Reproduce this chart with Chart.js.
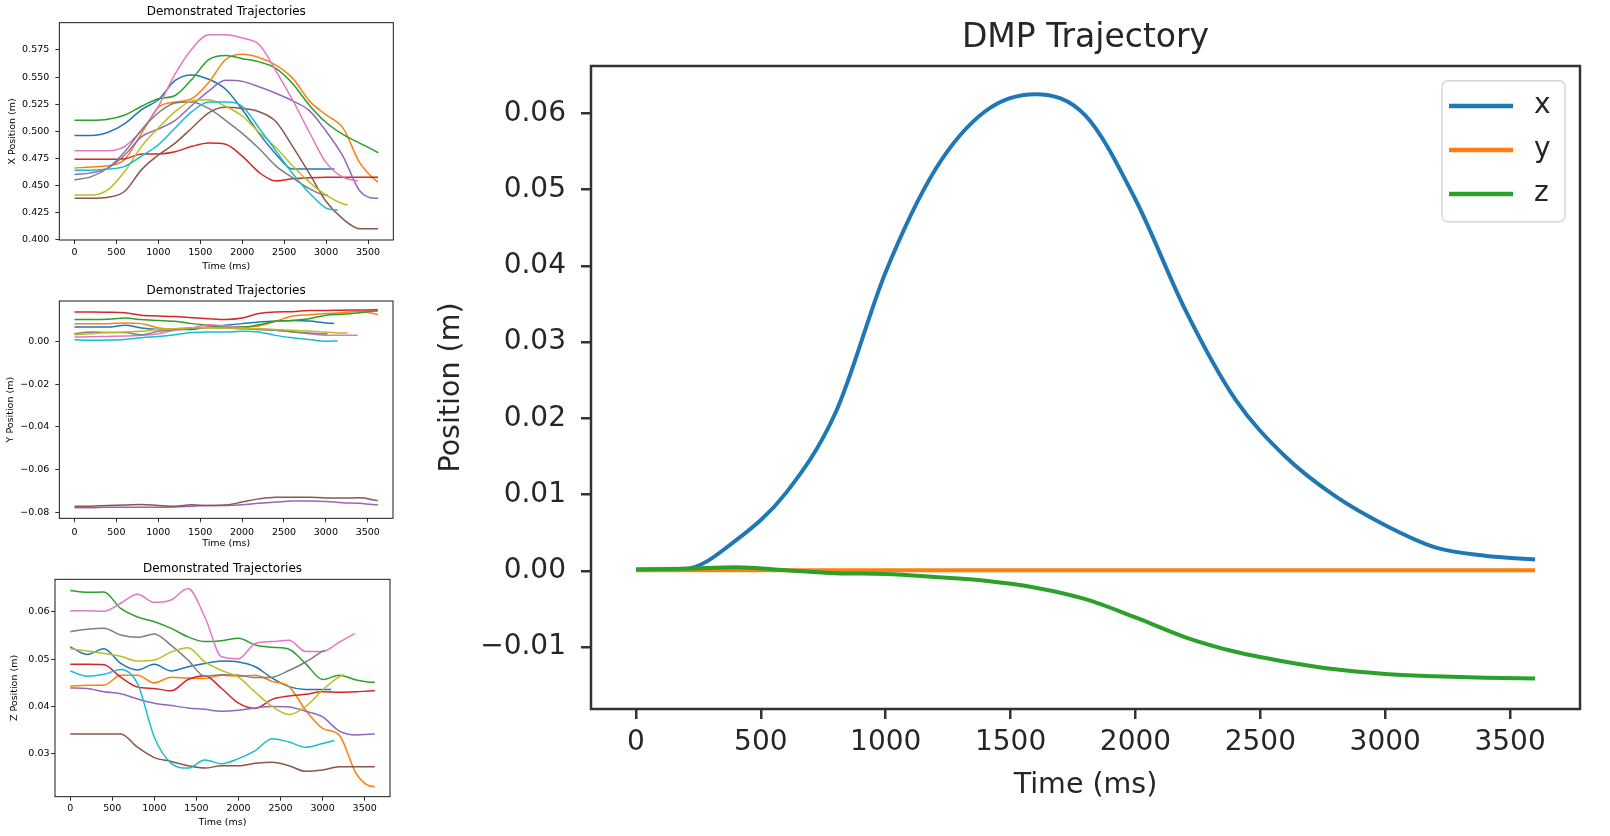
<!DOCTYPE html>
<html lang="en">
<head>
  <meta charset="UTF-8">
  <title>Demonstrated Trajectories and DMP Trajectory</title>
  <script src="https://cdn.jsdelivr.net/npm/chart.js"></script>
  <style>
    body {
      margin: 0;
      width: 1610px;
      height: 836px;
      background: #fff;
      position: relative;
      overflow: hidden;
    }
    canvas { position: absolute; }
    #xChart { left: 0; top: 0; }
    #yChart { left: 0; top: 275px; }
    #zChart { left: 0; top: 550px; }
    #dmpChart { left: 410px; top: 0; }
  </style>
</head>
<body>
  <canvas id="xChart" width="400" height="275"></canvas>
  <canvas id="yChart" width="400" height="275"></canvas>
  <canvas id="zChart" width="400" height="286"></canvas>
  <canvas id="dmpChart" width="1200" height="836"></canvas>

  <script>
    // time samples (ms); the last value of every demo series sits at its end time
    const timeGrid = [0, 200, 400, 600, 800, 1000, 1200, 1400, 1600, 1800, 2000, 2200, 2400, 2600, 2800, 3000, 3200, 3400, 3600];
    const demoEnds = [3100, 3620, 3620, 3620, 3620, 3620, 3380, 3020, 3260, 3140];
    const demoColors = ['#1f77b4', '#ff7f0e', '#2ca02c', '#d62728', '#9467bd', '#8c564b', '#e377c2', '#7f7f7f', '#bcbd22', '#17becf'];

    const demoX = [
      [0.496, 0.496, 0.499, 0.507, 0.520, 0.529, 0.547, 0.552, 0.548, 0.539, 0.520, 0.498, 0.479, 0.465, 0.465, 0.465, 0.465],
      [0.466, 0.467, 0.468, 0.474, 0.498, 0.522, 0.527, 0.530, 0.545, 0.566, 0.571, 0.568, 0.561, 0.549, 0.528, 0.515, 0.503, 0.471, 0.454, 0.453],
      [0.510, 0.510, 0.511, 0.515, 0.523, 0.530, 0.533, 0.548, 0.566, 0.570, 0.567, 0.564, 0.558, 0.544, 0.524, 0.508, 0.497, 0.489, 0.481, 0.480],
      [0.474, 0.474, 0.474, 0.4745, 0.479, 0.479, 0.481, 0.486, 0.489, 0.488, 0.477, 0.462, 0.454, 0.456, 0.457, 0.4575, 0.4575, 0.4575, 0.4575, 0.4575],
      [0.460, 0.4615, 0.466, 0.478, 0.495, 0.502, 0.510, 0.524, 0.537, 0.547, 0.546, 0.541, 0.535, 0.528, 0.519, 0.500, 0.477, 0.445, 0.438, 0.438],
      [0.438, 0.438, 0.439, 0.4445, 0.4645, 0.478, 0.489, 0.503, 0.517, 0.522, 0.521, 0.518, 0.509, 0.486, 0.461, 0.435, 0.419, 0.410, 0.410, 0.410],
      [0.482, 0.482, 0.482, 0.486, 0.501, 0.523, 0.553, 0.576, 0.589, 0.589, 0.586, 0.580, 0.556, 0.529, 0.499, 0.471, 0.4575, 0.454],
      [0.455, 0.458, 0.466, 0.481, 0.501, 0.517, 0.526, 0.527, 0.521, 0.510, 0.498, 0.484, 0.468, 0.457, 0.447, 0.441, 0.441],
      [0.441, 0.441, 0.446, 0.463, 0.486, 0.503, 0.518, 0.528, 0.529, 0.523, 0.514, 0.499, 0.485, 0.468, 0.453, 0.441, 0.433, 0.432],
      [0.464, 0.464, 0.465, 0.4675, 0.477, 0.4875, 0.503, 0.518, 0.527, 0.527, 0.523, 0.503, 0.482, 0.461, 0.443, 0.429, 0.427]
    ];

    const demoY = [
      [0.0067, 0.0067, 0.0067, 0.0075, 0.0063, 0.0056, 0.0055, 0.0056, 0.0067, 0.0075, 0.0083, 0.0091, 0.0095, 0.0098, 0.0095, 0.0086, 0.0084],
      [0.0083, 0.0083, 0.0083, 0.0086, 0.0083, 0.0063, 0.0059, 0.0062, 0.0067, 0.0067, 0.0067, 0.0072, 0.0094, 0.0119, 0.0125, 0.0130, 0.0134, 0.0141, 0.0127, 0.0125],
      [0.0102, 0.0102, 0.0104, 0.0109, 0.0102, 0.0098, 0.0094, 0.0083, 0.0075, 0.0067, 0.0067, 0.0078, 0.0094, 0.0098, 0.0106, 0.0122, 0.0127, 0.0134, 0.0142, 0.0142],
      [0.0137, 0.0137, 0.0136, 0.0134, 0.0122, 0.0119, 0.0116, 0.0111, 0.0106, 0.0102, 0.0109, 0.0130, 0.0138, 0.0139, 0.0145, 0.0145, 0.0146, 0.0147, 0.0148, 0.0148],
      [-0.0780, -0.0779, -0.0777, -0.0777, -0.0777, -0.0777, -0.0776, -0.0772, -0.0769, -0.0769, -0.0766, -0.0758, -0.0753, -0.0748, -0.0748, -0.0750, -0.0756, -0.0759, -0.0766, -0.0766],
      [-0.0773, -0.0772, -0.0769, -0.0767, -0.0764, -0.0769, -0.0773, -0.0766, -0.0769, -0.0767, -0.0753, -0.0738, -0.0730, -0.0730, -0.0730, -0.0734, -0.0734, -0.0733, -0.0745, -0.0746],
      [0.0020, 0.0021, 0.0023, 0.0025, 0.0028, 0.0036, 0.0052, 0.0063, 0.0078, 0.0072, 0.0064, 0.0055, 0.0052, 0.0044, 0.0036, 0.0028, 0.0028, 0.0028],
      [0.0036, 0.0044, 0.0042, 0.0041, 0.0031, 0.0047, 0.0056, 0.0063, 0.0064, 0.0063, 0.0059, 0.0056, 0.0052, 0.0044, 0.0039, 0.0036, 0.0036],
      [0.0031, 0.0036, 0.0041, 0.0044, 0.0047, 0.0055, 0.0059, 0.0064, 0.0064, 0.0063, 0.0059, 0.0059, 0.0056, 0.0052, 0.0048, 0.0044, 0.0039, 0.0039],
      [0.0008, 0.0005, 0.0006, 0.0009, 0.0017, 0.0023, 0.0031, 0.0041, 0.0044, 0.0044, 0.0047, 0.0044, 0.0028, 0.0017, 0.0009, 0.0000, 0.0002]
    ];

    const demoZ = [
      [0.0526, 0.0510, 0.0522, 0.0491, 0.0477, 0.0489, 0.0475, 0.0484, 0.0491, 0.0496, 0.0494, 0.0484, 0.0460, 0.0442, 0.0436, 0.0436, 0.0436],
      [0.0443, 0.0445, 0.0445, 0.0466, 0.0466, 0.0450, 0.0462, 0.0460, 0.0459, 0.0466, 0.0464, 0.0466, 0.0453, 0.0442, 0.0392, 0.0354, 0.0339, 0.0258, 0.0231, 0.0231],
      [0.0645, 0.0641, 0.0642, 0.0607, 0.0589, 0.0579, 0.0565, 0.0547, 0.0537, 0.0539, 0.0544, 0.0530, 0.0525, 0.0521, 0.0490, 0.0457, 0.0466, 0.0456, 0.0451, 0.0451],
      [0.0489, 0.0489, 0.0488, 0.0462, 0.0441, 0.0438, 0.0433, 0.0457, 0.0465, 0.0438, 0.0407, 0.0396, 0.0415, 0.0422, 0.0426, 0.0431, 0.0430, 0.0431, 0.0433, 0.0433],
      [0.0439, 0.0438, 0.0431, 0.0427, 0.0416, 0.0407, 0.0402, 0.0397, 0.0394, 0.0390, 0.0392, 0.0397, 0.0400, 0.0399, 0.0390, 0.0378, 0.0348, 0.0340, 0.0342, 0.0342],
      [0.0342, 0.0342, 0.0342, 0.0342, 0.0314, 0.0292, 0.0284, 0.0275, 0.0270, 0.0275, 0.0275, 0.0280, 0.0282, 0.0275, 0.0263, 0.0266, 0.0273, 0.0273, 0.0273, 0.0273],
      [0.0602, 0.0602, 0.0601, 0.0618, 0.0637, 0.0620, 0.0625, 0.0649, 0.0589, 0.0505, 0.0501, 0.0533, 0.0537, 0.0540, 0.0516, 0.0516, 0.0536, 0.0554],
      [0.0558, 0.0563, 0.0565, 0.0551, 0.0546, 0.0553, 0.0529, 0.0498, 0.0464, 0.0467, 0.0466, 0.0461, 0.0462, 0.0476, 0.0494, 0.0517, 0.0519],
      [0.0522, 0.0517, 0.0512, 0.0506, 0.0496, 0.0498, 0.0515, 0.0524, 0.0494, 0.0476, 0.0462, 0.0430, 0.0400, 0.0383, 0.0400, 0.0435, 0.0463, 0.0467],
      [0.0475, 0.0464, 0.0468, 0.0478, 0.0448, 0.0335, 0.0280, 0.0270, 0.0287, 0.0279, 0.0290, 0.0307, 0.0332, 0.0325, 0.0314, 0.0322, 0.0328]
    ];

    const timeTicks = [0, 500, 1000, 1500, 2000, 2500, 3000, 3500];
    const xPosTicks = [0.400, 0.425, 0.450, 0.475, 0.500, 0.525, 0.550, 0.575];
    const yPosTicks = [-0.08, -0.06, -0.04, -0.02, 0.00];
    const zPosTicks = [0.03, 0.04, 0.05, 0.06];

    // DMP reproduction
    const dmpLabels = ['x', 'y', 'z'];
    const dmpColors = ['#1f77b4', '#ff7f0e', '#2ca02c'];
    const dmpX = [0.0002, 0.0003, 0.0040, 0.0102, 0.0208, 0.0392, 0.0527, 0.0603, 0.0625, 0.0597, 0.0487, 0.0342, 0.0225, 0.0150, 0.0098, 0.0060, 0.0031, 0.0020, 0.0015];
    const dmpY = [0.0001, 0.0001, 0.0001, 0.0001, 0.0001, 0.0001, 0.0001, 0.0001, 0.0001, 0.0001, 0.0001, 0.0001, 0.0001, 0.0001, 0.0001, 0.0001, 0.0001, 0.0001, 0.0001];
    const dmpZ = [0.0002, 0.0003, 0.0005, 0.0001, -0.0003, -0.0004, -0.0008, -0.0013, -0.0022, -0.0037, -0.0061, -0.0087, -0.0106, -0.0119, -0.0129, -0.0135, -0.0138, -0.0140, -0.0141];
    const dmpTicks = [-0.01, 0.00, 0.01, 0.02, 0.03, 0.04, 0.05, 0.06];

    Chart.defaults.font.family = '"DejaVu Sans", sans-serif';
    Chart.defaults.animation = false;

    // box around the axes, drawn over the lines like matplotlib spines
    const frame = {
      id: 'frame',
      afterDatasetsDraw(chart, args, opts) {
        const { ctx, chartArea: a } = chart;
        ctx.save();
        ctx.strokeStyle = opts.color;
        ctx.lineWidth = opts.width;
        ctx.strokeRect(a.left, a.top, a.right - a.left, a.bottom - a.top);
        ctx.restore();
      }
    };

    // framed legend in the upper right of the plot
    const lineLegend = {
      id: 'lineLegend',
      afterDraw(chart, args, o) {
        const { ctx, chartArea: a } = chart;
        const x0 = a.right - o.right - o.width;
        const y0 = a.top + o.top;
        const w = o.width, h = o.height, r = o.radius;
        ctx.save();
        ctx.beginPath();
        ctx.moveTo(x0 + r, y0);
        ctx.lineTo(x0 + w - r, y0);
        ctx.arcTo(x0 + w, y0, x0 + w, y0 + r, r);
        ctx.lineTo(x0 + w, y0 + h - r);
        ctx.arcTo(x0 + w, y0 + h, x0 + w - r, y0 + h, r);
        ctx.lineTo(x0 + r, y0 + h);
        ctx.arcTo(x0, y0 + h, x0, y0 + h - r, r);
        ctx.lineTo(x0, y0 + r);
        ctx.arcTo(x0, y0, x0 + r, y0, r);
        ctx.closePath();
        ctx.fillStyle = 'rgba(255,255,255,0.8)';
        ctx.fill();
        ctx.strokeStyle = o.borderColor;
        ctx.lineWidth = 1.5;
        ctx.stroke();
        ctx.font = o.font;
        ctx.textBaseline = 'middle';
        chart.data.datasets.forEach((ds, i) => {
          const y = y0 + o.firstRow + i * o.rowGap;
          ctx.beginPath();
          ctx.moveTo(x0 + o.lineStart, y);
          ctx.lineTo(x0 + o.lineEnd, y);
          ctx.strokeStyle = ds.borderColor;
          ctx.lineWidth = o.lineWidth;
          ctx.stroke();
          ctx.fillStyle = o.textColor;
          ctx.fillText(ds.label, x0 + o.textX, y);
        });
        ctx.restore();
      }
    };

    function minus(s) {
      return s.replace('-', '\u2212');
    }

    function demoPoints(vals, end) {
      return vals.map((v, i) => ({ x: i < vals.length - 1 ? timeGrid[i] : end, y: v }));
    }

    function demoChart(id, series, yTicks, yMin, yMax, decimals, yLabel, lay) {
      const datasets = series.map((vals, i) => ({
        label: 'demo ' + (i + 1),
        data: demoPoints(vals, demoEnds[i]),
        borderColor: demoColors[i],
        borderWidth: 1.5,
        pointRadius: 0,
        cubicInterpolationMode: 'monotone',
        order: -i
      }));
      const tickFont = { size: 9.5 };
      const grid = { display: true, drawOnChartArea: false, drawTicks: true, tickLength: 4, color: '#000', lineWidth: 0.8 };
      return new Chart(document.getElementById(id), {
        type: 'line',
        data: { datasets },
        plugins: [frame],
        options: {
          responsive: false,
          layout: { padding: { left: 2, right: lay.right, top: 0, bottom: 0 } },
          plugins: {
            legend: { display: false },
            tooltip: { enabled: false },
            frame: { color: '#000', width: 0.9 },
            title: {
              display: true,
              text: 'Demonstrated Trajectories',
              fullSize: false,
              color: '#000',
              font: { size: 12, weight: 'normal' },
              padding: { top: lay.titleTop, bottom: lay.titleBottom }
            }
          },
          scales: {
            x: {
              type: 'linear',
              min: -181,
              max: 3801,
              afterBuildTicks: s => { s.ticks = timeTicks.map(v => ({ value: v })); },
              afterFit: s => { s.height = lay.xHeight; },
              grid,
              border: { display: false },
              ticks: { color: '#000', font: tickFont, padding: lay.xTickPad, maxRotation: 0, autoSkip: false, callback: v => String(v) },
              title: { display: true, text: 'Time (ms)', color: '#000', font: tickFont, padding: { top: 0, bottom: lay.xTitlePad } }
            },
            y: {
              type: 'linear',
              min: yMin,
              max: yMax,
              afterBuildTicks: s => { s.ticks = yTicks.map(v => ({ value: v })); },
              afterFit: s => { s.width = lay.yWidth; },
              grid,
              border: { display: false },
              ticks: { color: '#000', font: tickFont, padding: lay.yTickPad, autoSkip: false, callback: v => minus(v.toFixed(decimals)) },
              title: { display: true, text: yLabel, color: '#000', font: tickFont, padding: { top: lay.yTitlePad, bottom: 0 } }
            }
          }
        }
      });
    }

    demoChart('xChart', demoX, xPosTicks, 0.3995, 0.6002, 3, 'X Position (m)',
      { right: 6.7, titleTop: 4.8, titleBottom: 3.5, xHeight: 35, xTickPad: 2.6, xTitlePad: 2.6, yWidth: 57.3, yTickPad: 6, yTitlePad: 5 });
    demoChart('yChart', demoY, yPosTicks, -0.0829, 0.0189, 2, 'Y Position (m)',
      { right: 7, titleTop: 8.5, titleBottom: 3.1, xHeight: 31.7, xTickPad: 4.3, xTitlePad: 1, yWidth: 57.3, yTickPad: 6, yTitlePad: 3.3 });
    demoChart('zChart', demoZ, zPosTicks, 0.02095, 0.06686, 2, 'Z Position (m)',
      { right: 10, titleTop: 11.8, titleBottom: 3.1, xHeight: 39.3, xTickPad: 2.6, xTitlePad: 7.6, yWidth: 53, yTickPad: 1.5, yTitlePad: 7.3 });

    // big DMP chart
    const dmpSeries = [dmpX, dmpY, dmpZ];
    const bigFont = { size: 28.5 };
    const bigGrid = { display: true, drawOnChartArea: false, drawTicks: true, tickLength: 10, color: '#333', lineWidth: 2.5 };
    new Chart(document.getElementById('dmpChart'), {
      type: 'line',
      data: {
        datasets: dmpSeries.map((vals, i) => ({
          label: dmpLabels[i],
          data: vals.map((v, j) => ({ x: timeGrid[j], y: v })),
          borderColor: dmpColors[i],
          borderWidth: 4,
          pointRadius: 0,
          cubicInterpolationMode: 'monotone',
          order: -i
        }))
      },
      plugins: [frame, lineLegend],
      options: {
        responsive: false,
        layout: { padding: { left: 5, right: 30, top: 0, bottom: 0 } },
        plugins: {
          legend: { display: false },
          tooltip: { enabled: false },
          frame: { color: '#333', width: 2.5 },
          lineLegend: {
            right: 15, top: 14.7, width: 123, height: 141, radius: 6,
            firstRow: 25.3, rowGap: 44, lineStart: 7, lineEnd: 71, textX: 92,
            lineWidth: 4.5, borderColor: '#d6d6d6', textColor: '#262626',
            font: '28px "DejaVu Sans", sans-serif'
          },
          title: {
            display: true,
            text: 'DMP Trajectory',
            fullSize: false,
            color: '#262626',
            font: { size: 33, weight: 'normal' },
            padding: { top: 18.2, bottom: 8.2 }
          }
        },
        scales: {
          x: {
            type: 'linear',
            min: -180,
            max: 3780,
            afterBuildTicks: s => { s.ticks = timeTicks.map(v => ({ value: v })); },
            afterFit: s => { s.height = 127; },
            grid: bigGrid,
            border: { display: false },
            ticks: { color: '#262626', font: { size: 28 }, padding: 7.2, maxRotation: 0, autoSkip: false, callback: v => String(v) },
            title: { display: true, text: 'Time (ms)', color: '#262626', font: bigFont, padding: { top: 0, bottom: 32.9 } }
          },
          y: {
            type: 'linear',
            min: -0.0181,
            max: 0.0662,
            afterBuildTicks: s => { s.ticks = dmpTicks.map(v => ({ value: v })); },
            afterFit: s => { s.width = 176; },
            grid: bigGrid,
            border: { display: false },
            ticks: { color: '#262626', font: { size: 28 }, padding: 15, autoSkip: false, callback: v => minus(v.toFixed(2)) },
            title: { display: true, text: 'Position (m)', color: '#262626', font: bigFont, padding: { top: 19.2, bottom: 0 } }
          }
        }
      }
    });
  </script>
</body>
</html>
